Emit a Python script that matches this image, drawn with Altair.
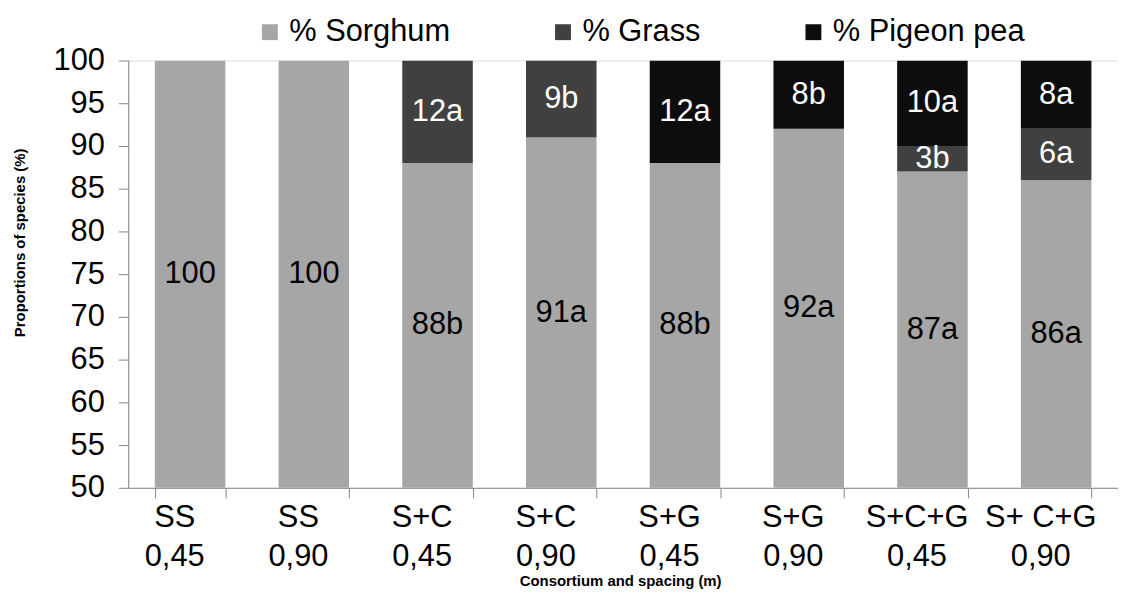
import altair as alt
import pandas as pd

categories = ["SS|0,45", "SS|0,90", "S+C|0,45", "S+C|0,90",
              "S+G|0,45", "S+G|0,90", "S+C+G|0,45", "S+ C+G|0,90"]
species = ["% Sorghum", "% Grass", "% Pigeon pea"]
sorghum = [100, 100, 88, 91, 88, 92, 87, 86]
grass = [0, 0, 12, 9, 0, 0, 3, 6]
pigeon = [0, 0, 0, 0, 12, 8, 10, 8]
sorghum_lbl = ["100", "100", "88b", "91a", "88b", "92a", "87a", "86a"]
grass_lbl = ["", "", "12a", "9b", "", "", "3b", "6a"]
pigeon_lbl = ["", "", "", "", "12a", "8b", "10a", "8a"]
colors = ["#A6A6A6", "#404040", "#0D0D0D"]
text_colors = ["#000000", "#FFFFFF", "#FFFFFF"]
y_ticks = [50, 55, 60, 65, 70, 75, 80, 85, 90, 95, 100]

rows = []
series = [(sorghum, sorghum_lbl), (grass, grass_lbl), (pigeon, pigeon_lbl)]
for i, cat in enumerate(categories):
    for k, (vals, lbls) in enumerate(series):
        rows.append({"cat": cat, "species": species[k], "value": vals[i],
                     "label": lbls[i], "order": k, "tcolor": text_colors[k]})
df = pd.DataFrame(rows)

FONT = "Liberation Sans"
FS = 31

x_enc = alt.X(
    "cat:N", sort=categories,
    scale=alt.Scale(paddingInner=0.43, paddingOuter=0.215),
    axis=alt.Axis(
        title="Consortium and spacing (m)", labelExpr="split(datum.label, '|')",
        labelAngle=0, labelFont=FONT, labelFontSize=FS, labelColor="#000000",
        labelLineHeight=39, labelPadding=5, labelOffset=-16,
        tickBand="extent", tickSize=10, tickColor="#868686",
        domainColor="#868686", titleFont=FONT, titleFontSize=15,
        titleFontWeight="bold", titleColor="#000000",
        titleX=495, titleY=93, titleBaseline="middle",
    ),
)
y_scale = alt.Scale(domain=[50, 100], nice=False, zero=False)
y_axis = alt.Axis(
    title="Proportions of species (%)", values=y_ticks, grid=False,
    labelFont=FONT, labelFontSize=FS, labelColor="#000000", labelPadding=14,
    tickSize=10, tickColor="#868686", domainColor="#868686",
    titleFont=FONT, titleFontSize=15, titleFontWeight="bold", titleColor="#000000",
    titleX=-109, titleY=183, titleBaseline="middle", titleAlign="center",
)

base = alt.Chart(df).transform_stack(
    stack="value", groupby=["cat"], as_=["y0", "y1"],
    sort=[alt.SortField("order", order="ascending")],
).transform_calculate(mid="(max(datum.y0, 50) + datum.y1) / 2")

bars = base.mark_bar(clip=True).encode(
    x=x_enc,
    y=alt.Y("y0:Q", scale=y_scale, axis=y_axis),
    y2="y1:Q",
    color=alt.Color(
        "species:N",
        scale=alt.Scale(domain=species, range=colors),
        legend=alt.Legend(
            title=None, orient="none", legendX=127, legendY=-44,
            direction="horizontal", columns=3, gridAlign="none",
            columnPadding=98, symbolType="square", symbolSize=256,
            symbolStrokeWidth=0, labelFont=FONT, labelFontSize=FS,
            labelColor="#000000", labelOffset=4, labelLimit=400,
        ),
    ),
    order=alt.Order("order:Q"),
)

texts = base.transform_filter("datum.label != ''").mark_text(
    font=FONT, fontSize=FS, baseline="middle", align="center"
).encode(
    x=alt.X("cat:N", sort=categories),
    y=alt.Y("mid:Q", scale=y_scale, axis=y_axis),
    text="label:N",
    color=alt.Color("tcolor:N", scale=None),
)

chart = alt.layer(bars, texts).properties(
    width=996, height=430,
    autosize=alt.AutoSizeParams(type="none"),
    padding={"left": 121, "top": 51, "right": 0, "bottom": 101},
).configure_view(stroke=None).configure(background="#FFFFFF")

chart.save("out.html", embed_options={"renderer": "svg", "actions": False})
